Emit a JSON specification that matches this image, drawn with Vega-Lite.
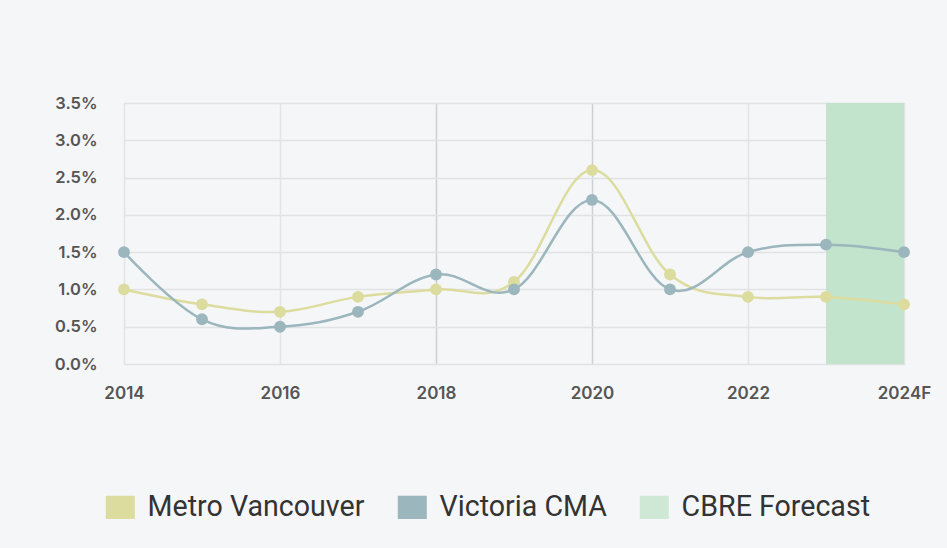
{
  "$schema": "https://vega.github.io/schema/vega-lite/v6.json",
  "width": 780,
  "height": 261,
  "autosize": {"type": "none"},
  "padding": {"left": 124, "top": 103, "right": 43, "bottom": 184},
  "background": "#f5f6f8",
  "config": {
    "view": {"stroke": "#d9d9d9", "strokeWidth": 1},
    "axis": {"labelFont": "Inter", "labelFontWeight": 600, "labelColor": "#555555", "domain": false, "ticks": false, "gridColor": "#e4e4e4", "gridWidth": 1.5, "labelOverlap": false}
  },
  "encoding": {
    "x": {
      "field": "year", "type": "quantitative",
      "scale": {"domain": [2014, 2024], "nice": false, "zero": false},
      "axis": {
        "title": null,
        "values": [2014, 2016, 2018, 2020, 2022, 2024],
        "labelExpr": "datum.value == 2024 ? '2024F' : datum.value",
        "labelFlush": false,
        "labelFontSize": 17,
        "labelPadding": 21,
        "gridColor": {"condition": {"test": "datum.value == 2018 || datum.value == 2020", "value": "#cfcfcf"}, "value": "#e4e4e4"}
      }
    },
    "y": {
      "field": "value", "type": "quantitative",
      "scale": {"domain": [0, 3.5], "nice": false},
      "axis": {
        "title": null,
        "grid": true,
        "gridColor": "#e2e2e2",
        "tickCount": 10,
        "values": [0, 0.5, 1, 1.5, 2, 2.5, 3, 3.5],
        "labelExpr": "format(datum.value, '.1f') + '%'",
        "labelFontSize": 16.5,
        "labelPadding": 27,
        "labelOverlap": false
      }
    }
  },
  "layer": [
    {
      "data": {"values": [{"year": 2023, "end": 2024, "value": 0, "top": 3.5}]},
      "mark": {"type": "rect", "fill": "#bfe1c9", "opacity": 0.95},
      "encoding": {
        "x2": {"field": "end"},
        "y2": {"field": "top"}
      }
    },
    {
      "data": {"values": [
        {"year": 2014, "series": "Metro Vancouver", "value": 1.0},
        {"year": 2015, "series": "Metro Vancouver", "value": 0.8},
        {"year": 2016, "series": "Metro Vancouver", "value": 0.7},
        {"year": 2017, "series": "Metro Vancouver", "value": 0.9},
        {"year": 2018, "series": "Metro Vancouver", "value": 1.0},
        {"year": 2019, "series": "Metro Vancouver", "value": 1.1},
        {"year": 2020, "series": "Metro Vancouver", "value": 2.6},
        {"year": 2021, "series": "Metro Vancouver", "value": 1.2},
        {"year": 2022, "series": "Metro Vancouver", "value": 0.9},
        {"year": 2023, "series": "Metro Vancouver", "value": 0.9},
        {"year": 2024, "series": "Metro Vancouver", "value": 0.8},
        {"year": 2014, "series": "Victoria CMA", "value": 1.5},
        {"year": 2015, "series": "Victoria CMA", "value": 0.6},
        {"year": 2016, "series": "Victoria CMA", "value": 0.5},
        {"year": 2017, "series": "Victoria CMA", "value": 0.7},
        {"year": 2018, "series": "Victoria CMA", "value": 1.2},
        {"year": 2019, "series": "Victoria CMA", "value": 1.0},
        {"year": 2020, "series": "Victoria CMA", "value": 2.2},
        {"year": 2021, "series": "Victoria CMA", "value": 1.0},
        {"year": 2022, "series": "Victoria CMA", "value": 1.5},
        {"year": 2023, "series": "Victoria CMA", "value": 1.6},
        {"year": 2024, "series": "Victoria CMA", "value": 1.5}
      ]},
      "encoding": {
        "color": {
          "field": "series", "type": "nominal",
          "scale": {"domain": ["Metro Vancouver", "Victoria CMA", "CBRE Forecast"], "range": ["#dcdc9e", "#9bb6bd", "#cfe8d5"]},
          "legend": {
            "title": null,
            "orient": "none",
            "direction": "horizontal",
            "legendX": -18,
            "legendY": 390,
            "labelFont": "Roboto",
            "labelFontSize": 28.6,
            "labelColor": "#333333",
            "labelFontWeight": 400,
            "symbolType": "M-1.25,-1H1.25V1H-1.25Z",
            "symbolSize": 540,
            "symbolStrokeWidth": 0,
            "labelOffset": 13,
            "columnPadding": 32,
            "labelLimit": 400,
            "encode": {"symbols": {"update": {"fill": {"scale": "color", "field": "value"}, "stroke": {"value": "transparent"}, "opacity": {"value": 1}}}}
          }
        }
      },
      "layer": [
        {"mark": {"type": "line", "interpolate": "cardinal", "tension": -0.1, "strokeWidth": 2.5}},
        {"mark": {"type": "point", "filled": true, "size": 140, "opacity": 1}}
      ]
    }
  ]
}
